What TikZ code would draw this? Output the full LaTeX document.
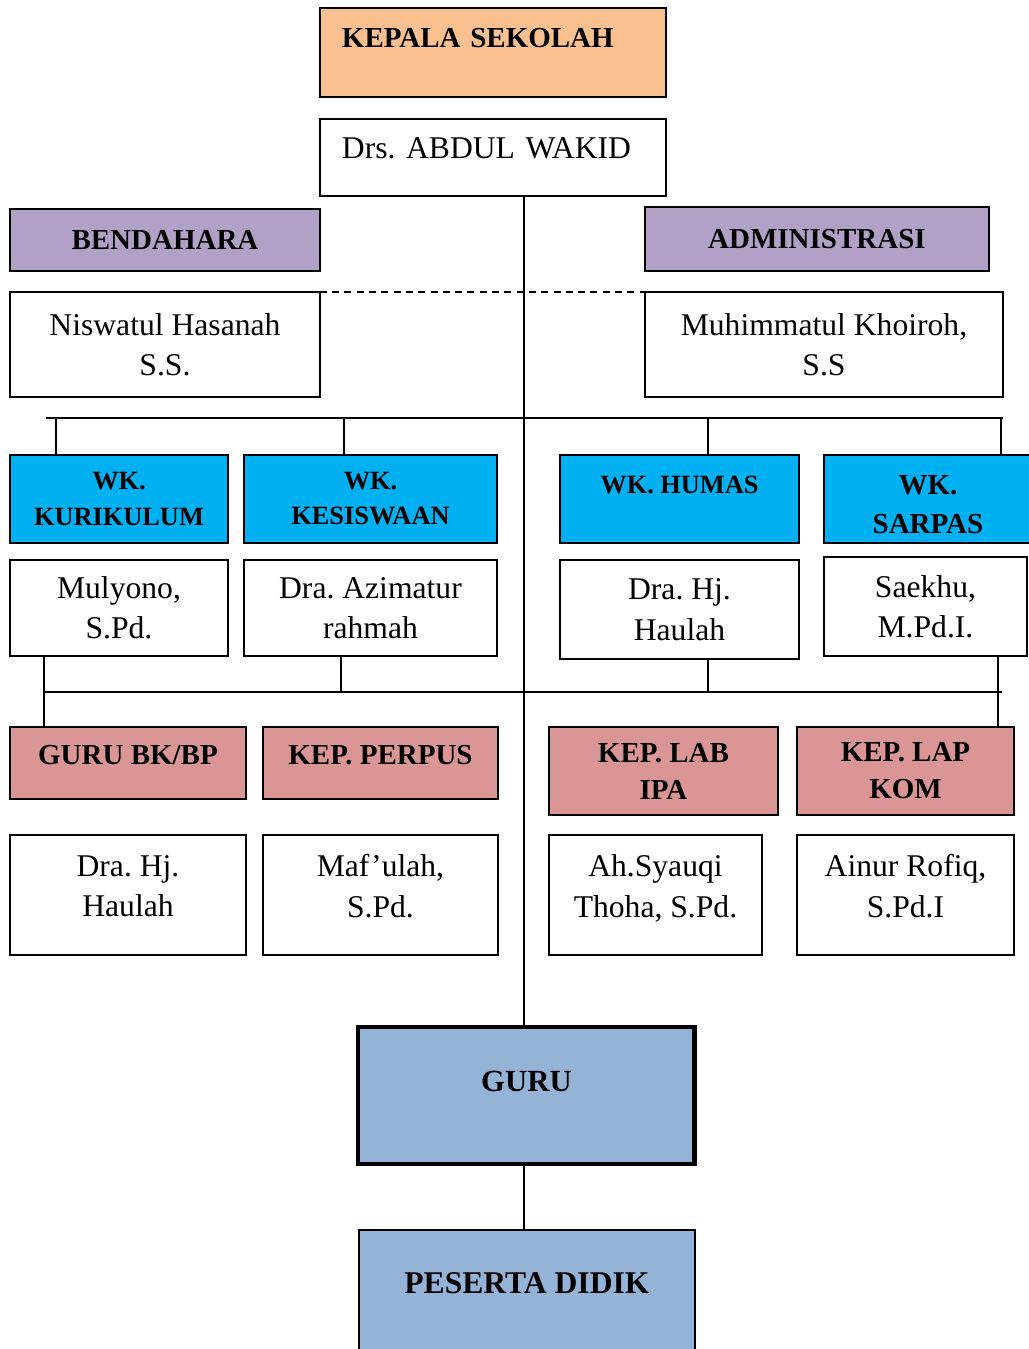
\documentclass[tikz,border=0pt]{standalone}
\usepackage{fontspec}
\setmainfont{Liberation Serif}
\usetikzlibrary{positioning}
\definecolor{kepalaorange}{HTML}{FAC090}
\definecolor{stafpurple}{HTML}{B2A1C7}
\definecolor{wkcyan}{HTML}{00B0F0}
\definecolor{keprose}{HTML}{D99694}
\definecolor{gurublue}{HTML}{95B3D7}
\frenchspacing

\begin{document}
\begin{tikzpicture}[x=0.02cm,y=-0.02cm,line width=0.8pt,
  orgbox/.style={draw,line width=1pt,anchor=north west,inner sep=0pt,
    outer sep=0pt,align=center},
  titlebox/.style={orgbox,font=\bfseries\fontsize{16.5}{21}\selectfont},
  wkbox/.style={titlebox,fill=wkcyan,font=\bfseries\fontsize{15}{20}\selectfont},
  namebox/.style={orgbox,font=\fontsize{18}{23}\selectfont}]
\useasboundingbox (0,0) rectangle (1028,1349);

% kepala sekolah
\node [titlebox,fill=kepalaorange,minimum width=6.92cm,minimum height=1.78cm,
  text width=6.04cm,inner xsep=0.44cm,align=left,
  text height=0.39cm,text depth=0.58cm] (kepala) at (320,8) {KEPALA SEKOLAH};
\node [namebox,minimum width=6.92cm,minimum height=1.54cm,
  text width=6.04cm,inner xsep=0.44cm,align=left,
  text height=0.42cm,text depth=0.38cm] (kepsek) at (320,119) {Drs. ABDUL WAKID};

% bendahara / administrasi
\node [titlebox,fill=stafpurple,minimum width=6.2cm,minimum height=1.24cm]
  (bendahara) at (10,209) {BENDAHARA};
\node [titlebox,fill=stafpurple,minimum width=6.88cm,minimum height=1.28cm]
  (admin) at (645,207) {ADMINISTRASI};
\node [namebox,minimum width=6.2cm,minimum height=2.1cm]
  (bendname) at (10,292) {Niswatul Hasanah\\S.S.};
\node [namebox,minimum width=7.16cm,minimum height=2.1cm]
  (adminname) at (645,292) {Muhimmatul Khoiroh,\\S.S};

% wakil kepala
\node [wkbox,minimum width=4.36cm,minimum height=1.76cm]
  (wkkur) at (10,455) {WK.\\KURIKULUM};
\node [wkbox,minimum width=5.06cm,minimum height=1.76cm]
  (wkkes) at (244,455) {WK.\\KESISWAAN};
\node [wkbox,minimum width=4.78cm,minimum height=1.76cm,
  text height=0.36cm,text depth=0.6cm] (wkhum) at (560,455) {WK. HUMAS};
\node [wkbox,minimum width=4.16cm,minimum height=1.76cm,
  font=\bfseries\fontsize{16.5}{22}\selectfont,text height=1.37cm,text depth=0cm]
  (wksar) at (824,455) {WK.\\SARPAS};
\node [namebox,minimum width=4.36cm,minimum height=1.92cm]
  (kurname) at (10,560) {Mulyono,\\S.Pd.};
\node [namebox,minimum width=5.06cm,minimum height=1.92cm]
  (kesname) at (244,560) {Dra. Azimatur\\rahmah};
\node [namebox,minimum width=4.78cm,minimum height=1.98cm]
  (humname) at (560,560) {Dra. Hj.\\Haulah};
\node [namebox,minimum width=4.06cm,minimum height=1.98cm]
  (sarname) at (824,557) {Saekhu,\\M.Pd.I.};

% kepala unit
\node [titlebox,fill=keprose,minimum width=4.72cm,minimum height=1.44cm,
  text height=0.39cm,text depth=0.32cm] (bk) at (10,727) {GURU BK/BP};
\node [titlebox,fill=keprose,minimum width=4.7cm,minimum height=1.44cm,
  text height=0.39cm,text depth=0.32cm] (perpus) at (263,727) {KEP. PERPUS};
\node [titlebox,fill=keprose,minimum width=4.58cm,minimum height=1.76cm]
  (lab) at (549,727) {KEP. LAB\\IPA};
\node [titlebox,fill=keprose,minimum width=4.34cm,minimum height=1.76cm]
  (kom) at (797,727) {KEP. LAP\\KOM};
\node [namebox,minimum width=4.72cm,minimum height=2.4cm,text depth=0.36cm]
  (bkname) at (10,835) {Dra. Hj.\\Haulah};
\node [namebox,minimum width=4.7cm,minimum height=2.4cm,text depth=0.36cm]
  (perpusname) at (263,835) {Maf’ulah,\\S.Pd.};
\node [namebox,minimum width=4.26cm,minimum height=2.4cm,text depth=0.36cm]
  (labname) at (549,835) {Ah.Syauqi\\Thoha, S.Pd.};
\node [namebox,minimum width=4.34cm,minimum height=2.4cm,text depth=0.36cm]
  (komname) at (797,835) {Ainur Rofiq,\\S.Pd.I};

% guru, peserta didik
\node [titlebox,fill=gurublue,line width=2.8pt,minimum width=6.74cm,
  minimum height=2.74cm,font=\bfseries\fontsize{17.5}{21}\selectfont,
  text height=0.42cm,text depth=0.58cm] (guru) at (358,1027) {GURU};
\node [titlebox,fill=gurublue,minimum width=6.72cm,minimum height=2.8cm,
  font=\bfseries\fontsize{18}{22}\selectfont,
  text height=0.43cm,text depth=0.68cm] (siswa) at (359,1230) {PESERTA DIDIK};

% garis
\coordinate (spine) at (524,0);
\draw (kepsek.south -| spine) -- (guru.north -| spine);
\draw (guru.south -| spine) -- (siswa.north -| spine);
\draw [dash pattern=on 4pt off 3pt,yshift=-0.03cm] ([xshift=-0.74cm]bendname.north east)
  -- ([xshift=2.4cm]adminname.north west);
\coordinate (wkbus) at (46,418);
\coordinate (wkbusend) at (1003,418);
\draw (wkbus) -- (wkbusend);
\foreach \wk/\dx in {wkkur/0.92,wkkes/2.0,wkhum/2.96,wksar/3.54}
  \draw ([xshift=\dx cm]\wk.north west) -- ([xshift=\dx cm]\wk.north west |- wkbus);
\coordinate (kepbus) at (44,692);
\coordinate (kepbusend) at (1002,692);
\draw (kepbus) -- (kepbusend);
\draw ([xshift=0.68cm]kurname.south west) -- ([xshift=0.68cm]bk.north west);
\draw ([xshift=1.94cm]kesname.south west) -- ([xshift=1.94cm]kesname.south west |- kepbus);
\draw ([xshift=2.96cm]humname.south west) -- ([xshift=2.96cm]humname.south west |- kepbus);
\draw ([xshift=3.48cm]sarname.south west) -- ([xshift=3.48cm]sarname.south west |- kom.north);
\end{tikzpicture}
\end{document}
